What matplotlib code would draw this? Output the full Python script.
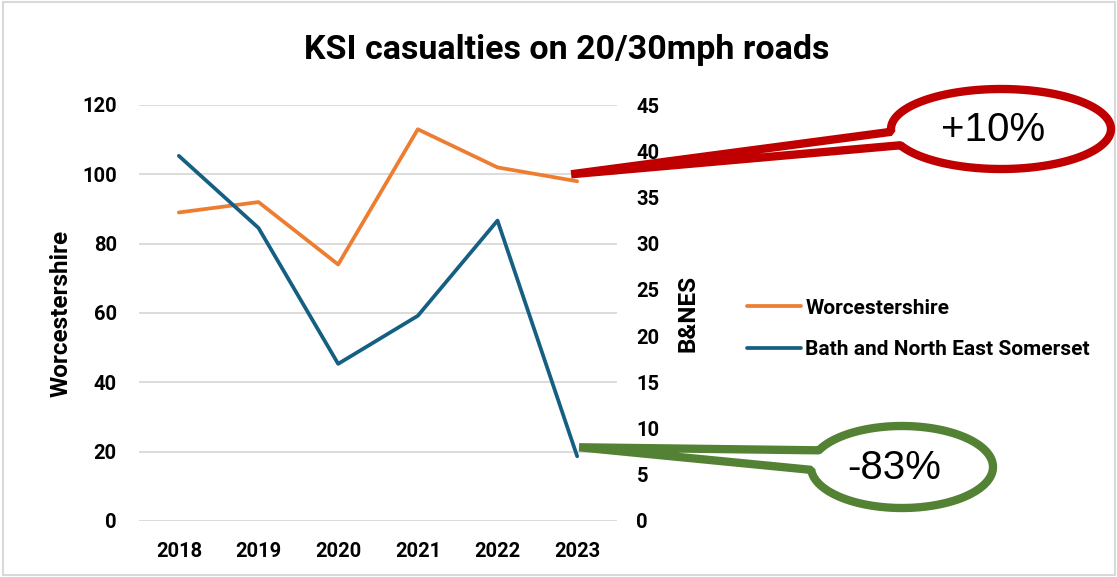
import matplotlib
matplotlib.use('Agg')
import matplotlib.pyplot as plt
from matplotlib.patches import Polygon, Rectangle
import numpy as np

# data
years = ['2018', '2019', '2020', '2021', '2022', '2023']
worcs = [89, 92, 74, 113, 102, 98]
bnes = [39.5, 31.7, 17, 22.2, 32.5, 7]
change_labels = ['+10%', '-83%']

W, H = 1117, 577
ORANGE = '#ED7D31'
BLUE = '#156082'
RED = '#C00000'
GREEN = '#548235'
GRID = '#D9D9D9'

plt.rcParams['font.family'] = ['Roboto', 'DejaVu Sans']

fig = plt.figure(figsize=(W / 100, H / 100), dpi=100)
ax = fig.add_axes([139 / W, 1 - 521 / H, 478 / W, 416 / H])
ax2 = ax.twinx()

x = np.arange(len(years))
l1, = ax.plot(x, worcs, color=ORANGE, lw=2.7, solid_capstyle='round', label='Worcestershire')
l2, = ax2.plot(x, bnes, color=BLUE, lw=2.7, solid_capstyle='round',
               label='Bath and North East Somerset')

ax.set_xlim(-0.5, len(years) - 0.5)
ax.set_ylim(0, 120)
ax.set_yticks(range(0, 121, 20))
ax2.set_ylim(0, 45)
ax2.set_yticks(range(0, 46, 5))
ax.set_xticks(x)
ax.set_xticklabels(years)
ax.grid(axis='y', color=GRID, lw=1.3)
ax.set_axisbelow(True)
for a in (ax, ax2):
    for s in a.spines.values():
        s.set_visible(False)
    a.tick_params(length=0, labelsize=14.5)
    for lab in a.get_xticklabels() + a.get_yticklabels():
        lab.set_fontweight('bold')
ax.tick_params(axis='y', pad=16)
ax.tick_params(axis='x', pad=15)
ax2.tick_params(axis='y', pad=14)

ax.set_ylabel('Worcestershire', fontsize=17.5, fontweight='bold', labelpad=7)
ax2.set_ylabel('B&NES', fontsize=17.5, fontweight='bold', labelpad=12)

fig.text(567 / W, 1 - 50 / H, 'KSI casualties on 20/30mph roads', ha='center', va='center',
         fontsize=24.5, fontweight='bold')

fig.legend([l1, l2], [l1.get_label(), l2.get_label()], loc='center left',
           bbox_to_anchor=(747 / W, 1 - 329 / H), frameon=False, borderpad=0,
           borderaxespad=0, prop={'weight': 'bold', 'size': 15}, handlelength=2.6,
           handletextpad=0.2, labelspacing=1.1)

# overlay in pixel coordinates (y down) for the callouts and border
ov = fig.add_axes([0, 0, 1, 1], zorder=10)
ov.set_xlim(0, W)
ov.set_ylim(H, 0)
ov.axis('off')
ov.patch.set_alpha(0)

ov.add_patch(Rectangle((3, 2), W - 5, H - 4, fill=False, ec=GRID, lw=1.5))


def to_px(a, xv, yv):
    px, py = a.transData.transform((xv, yv))
    return px, H - py


def callout(tip, center, w, h, t_up, t_lo, color, text):
    # oval callout: one outline going tip -> ellipse (long way round) -> tip
    cx, cy = center
    t = np.radians(np.linspace(t_up, t_lo + 360, 200))
    pts = [tip] + list(zip(cx + w / 2 * np.cos(t), cy + h / 2 * np.sin(t)))
    ov.add_patch(Polygon(pts, closed=True, fc='white', ec=color, lw=6, joinstyle='bevel'))
    ov.text(cx - 8, cy + 1, text, ha='center', va='center', fontsize=29,
            family=['Liberation Sans', 'DejaVu Sans'])


tx, ty = to_px(ax, x[-1], worcs[-1])
callout((tx - 6, ty - 7), (1001, 129), 220, 80, 176, 156, RED, change_labels[0])
tx, ty = to_px(ax2, x[-1], bnes[-1])
callout((tx + 2, ty - 9), (902, 467), 182, 82, 204, 176, GREEN, change_labels[1])

fig.savefig('out.png', dpi=100)
